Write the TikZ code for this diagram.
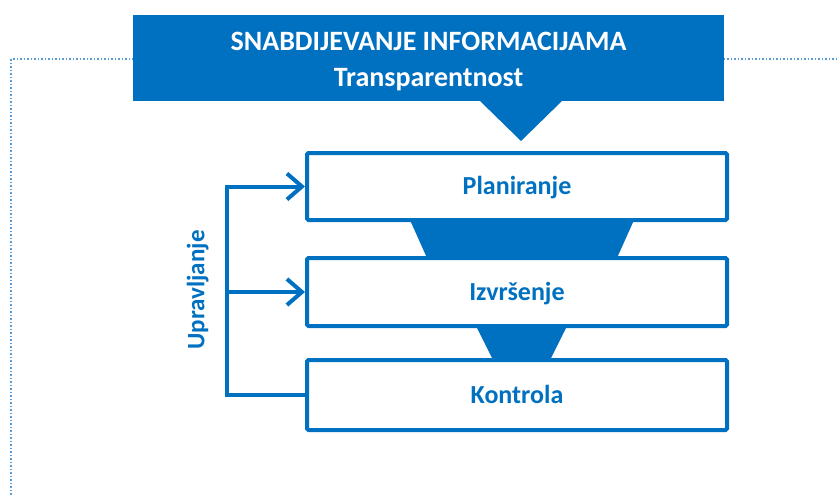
\documentclass[tikz,border=0pt]{standalone}
\usepackage{fontspec}
\setmainfont{Carlito}
\usetikzlibrary{arrows.meta}
\definecolor{mblue}{HTML}{0070C0}
\definecolor{dotblue}{HTML}{5B9BD5}
\begin{document}
\begin{tikzpicture}[x=1pt,y=-1pt,
  stagebox/.style={draw=mblue,line width=4pt,fill=white,rounded corners=1.5pt,
    minimum width=420pt,minimum height=67pt,inner sep=0pt,
    text=mblue,font=\fontsize{26}{30}\selectfont\bfseries,text height=16.8pt,text depth=0pt},
  bracket/.style={draw=mblue,line width=4pt,line join=miter},
  tip/.style={-{Straight Barb[length=15pt,width=26pt]}},
  dotline/.style={draw=dotblue,line width=1.5pt,dash pattern=on 1.5pt off 2pt},
  funnel/.style={fill=mblue},
  bannertext/.style={text=white,font=\fontsize{28}{30}\selectfont\bfseries,anchor=base,inner sep=0pt}]
\useasboundingbox (0,0) rectangle (837,495);
% dotted frame
\coordinate (fr) at (837,59);
\coordinate (fc) at (11,59);
\coordinate (fb) at (11,495);
\draw[dotline] (fr) -- (fc) -- (fb);
% banner
\node[fill=mblue,minimum width=591pt,minimum height=86pt,inner sep=0pt] (banner) at (428.5,58) {};
\fill[mblue] (479,100) -- (563,100) -- (521,141) -- cycle;
\node[bannertext] (t1) at (428.5,51) {SNABDIJEVANJE INFORMACIJAMA};
\node[bannertext] (t2) at (428.5,86) {Transparentnost};
% funnels
\fill[funnel] (410,220) -- (634,220) -- (617,258) -- (427,258) -- cycle;
\fill[funnel] (476,326) -- (567,326) -- (550,360) -- (493,360) -- cycle;
% boxes
\node[stagebox] (plan) at (517,186.5) {Planiranje};
\node[stagebox,minimum height=68pt] (izv) at (517,292) {Izvršenje};
\node[stagebox,minimum height=70pt] (kon) at (517,395) {Kontrola};
% bracket
\coordinate (bx) at (227,0);
\draw[bracket,tip] (kon.west) -| (bx |- plan.west) -- (plan.west);
\draw[bracket,tip] (bx |- izv.west) -- (izv.west);
% label
\node[rotate=90,text=mblue,font=\fontsize{25}{30}\selectfont\bfseries,inner sep=0pt,
  text height=16.5pt,text depth=0pt] (upr) at (196,290) {Upravljanje};
\end{tikzpicture}
\end{document}
